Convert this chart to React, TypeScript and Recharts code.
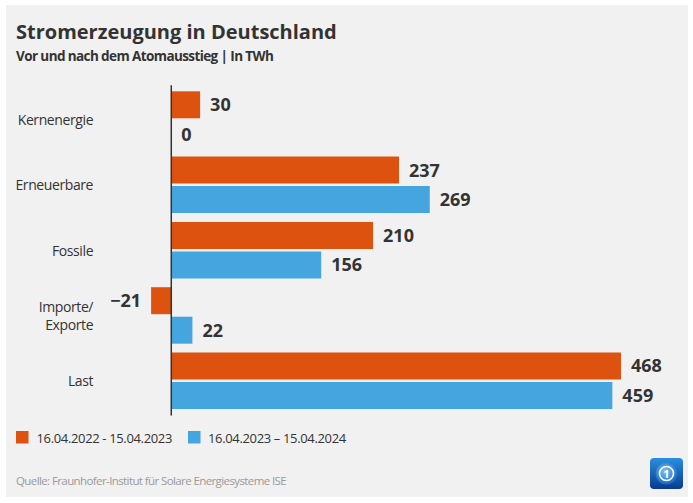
import React from 'react';
import { BarChart, Bar, XAxis, YAxis, ReferenceLine, LabelList } from 'recharts';

const categories = ['Kernenergie', 'Erneuerbare', 'Fossile', 'Importe/\nExporte', 'Last'];
const values2223 = [30, 237, 210, -21, 468];
const values2324 = [0, 269, 156, 22, 459];
const seriesNames = ['16.04.2022 - 15.04.2023', '16.04.2023 \u2013 15.04.2024'];
const colors = ['#dd520f', '#45a5df'];

const data = categories.map((name, i) => ({ name, a: values2223[i], b: values2324[i] }));

const FONT = '"Open Sans", sans-serif';
const TEXT = '#333333';

const fmt = (v: number) => (v < 0 ? '\u2212' + Math.abs(v) : String(v));

const ValueLabel = (props: any) => {
  const { x, y, width, height, value } = props;
  const w = Number(width) || 0;
  const left = Math.min(x, x + w);
  const right = Math.max(x, x + w);
  const neg = value < 0;
  return (
    <text
      x={neg ? left - 10 : right + 10}
      y={y + height / 2}
      dy="0.36em"
      textAnchor={neg ? 'end' : 'start'}
      fontFamily={FONT}
      fontWeight={700}
      fontSize={18}
      fill={TEXT}
    >
      {fmt(value)}
    </text>
  );
};

const CategoryTick = (props: any) => {
  const { x, y, payload } = props;
  const lines = String(payload.value).split('\n');
  const lh = 18;
  const start = -((lines.length - 1) * lh) / 2;
  return (
    <text x={x} y={y} textAnchor="end" fontFamily={FONT} fontSize={14} letterSpacing={-0.4} fill={TEXT}>
      {lines.map((l, i) => (
        <tspan key={i} x={x} dy={i === 0 ? start + 5 : lh}>
          {l}
        </tspan>
      ))}
    </text>
  );
};

const AxisLine = (props: any) => {
  const { x1, y1, x2, y2 } = props;
  return <line x1={x1} y1={y1 + 1.7} x2={x2} y2={y2 - 2} stroke={TEXT} strokeWidth={1.5} />;
};

const Logo = () => (
  <g transform="translate(650,458)">
    <defs>
      <linearGradient id="lg" x1="0" y1="0" x2="0" y2="1">
        <stop offset="0" stopColor="#2a8fe0" />
        <stop offset="1" stopColor="#0a3a8c" />
      </linearGradient>
      <radialGradient id="rg" cx="0.45" cy="0.4" r="0.6">
        <stop offset="0" stopColor="#7cc6f5" />
        <stop offset="1" stopColor="#1766c4" />
      </radialGradient>
    </defs>
    <rect x={0} y={0} width={33} height={31} rx={4} fill="url(#lg)" />
    <circle cx={16.5} cy={15.5} r={11} fill="url(#rg)" />
    <circle cx={16.5} cy={15.5} r={7} fill="none" stroke="#ffffff" strokeWidth={1.6} />
    <text x={16.5} y={19.5} textAnchor="middle" fontFamily={FONT} fontWeight={700} fontSize={11} fill="#ffffff">
      1
    </text>
  </g>
);

export default function App() {
  return (
    <div style={{ position: 'absolute', left: 0, top: 0, width: 693, height: 503, background: '#ffffff', fontFamily: FONT }}>
      <div style={{ position: 'absolute', left: 6, top: 5, width: 682, height: 492, background: '#f1f1f1' }} />
      <div style={{ position: 'absolute', left: 0, top: 0 }}>
        <BarChart
          width={693}
          height={503}
          data={data}
          layout="vertical"
          margin={{ top: 87.3, right: 72, bottom: 89.2, left: 0 }}
          barSize={27}
          barGap={2.5}
        >
          <XAxis type="number" domain={[-21, 468]} hide />
          <YAxis
            type="category"
            dataKey="name"
            width={151.1}
            axisLine={false}
            tickLine={false}
            tickSize={0}
            tickMargin={58}
            tick={<CategoryTick />}
            interval={0}
          />
          <Bar dataKey="a" name={seriesNames[0]} fill={colors[0]} isAnimationActive={false} minPointSize={0.01}>
            <LabelList dataKey="a" content={<ValueLabel />} />
          </Bar>
          <Bar dataKey="b" name={seriesNames[1]} fill={colors[1]} isAnimationActive={false} minPointSize={0.01}>
            <LabelList dataKey="b" content={<ValueLabel />} />
          </Bar>
          <ReferenceLine x={0} stroke={TEXT} shape={<AxisLine />} />
        </BarChart>
      </div>
      <svg width={693} height={503} style={{ position: 'absolute', left: 0, top: 0, pointerEvents: 'none' }}>
        <text x={16} y={39.3} fontFamily={FONT} fontWeight={700} fontSize={20} fill={TEXT}>
          Stromerzeugung in Deutschland
        </text>
        <text x={16} y={61} fontFamily={FONT} fontWeight={700} fontSize={13.5} letterSpacing={-0.6} fill={TEXT}>
          Vor und nach dem Atomausstieg | In TWh
        </text>
        <rect x={16} y={431} width={12.5} height={12.5} fill={colors[0]} />
        <text x={36.5} y={442.7} fontFamily={FONT} fontSize={13} letterSpacing={-0.35} fill={TEXT}>
          {seriesNames[0]}
        </text>
        <rect x={188} y={431} width={12.5} height={12.5} fill={colors[1]} />
        <text x={208} y={442.7} fontFamily={FONT} fontSize={13} letterSpacing={-0.35} fill={TEXT}>
          {seriesNames[1]}
        </text>
        <text x={16} y={485} fontFamily={FONT} fontSize={11.5} letterSpacing={-0.6} fill="#9a9a9a">
          Quelle: Fraunhofer-Institut für Solare Energiesysteme ISE
        </text>
        <Logo />
      </svg>
    </div>
  );
}
